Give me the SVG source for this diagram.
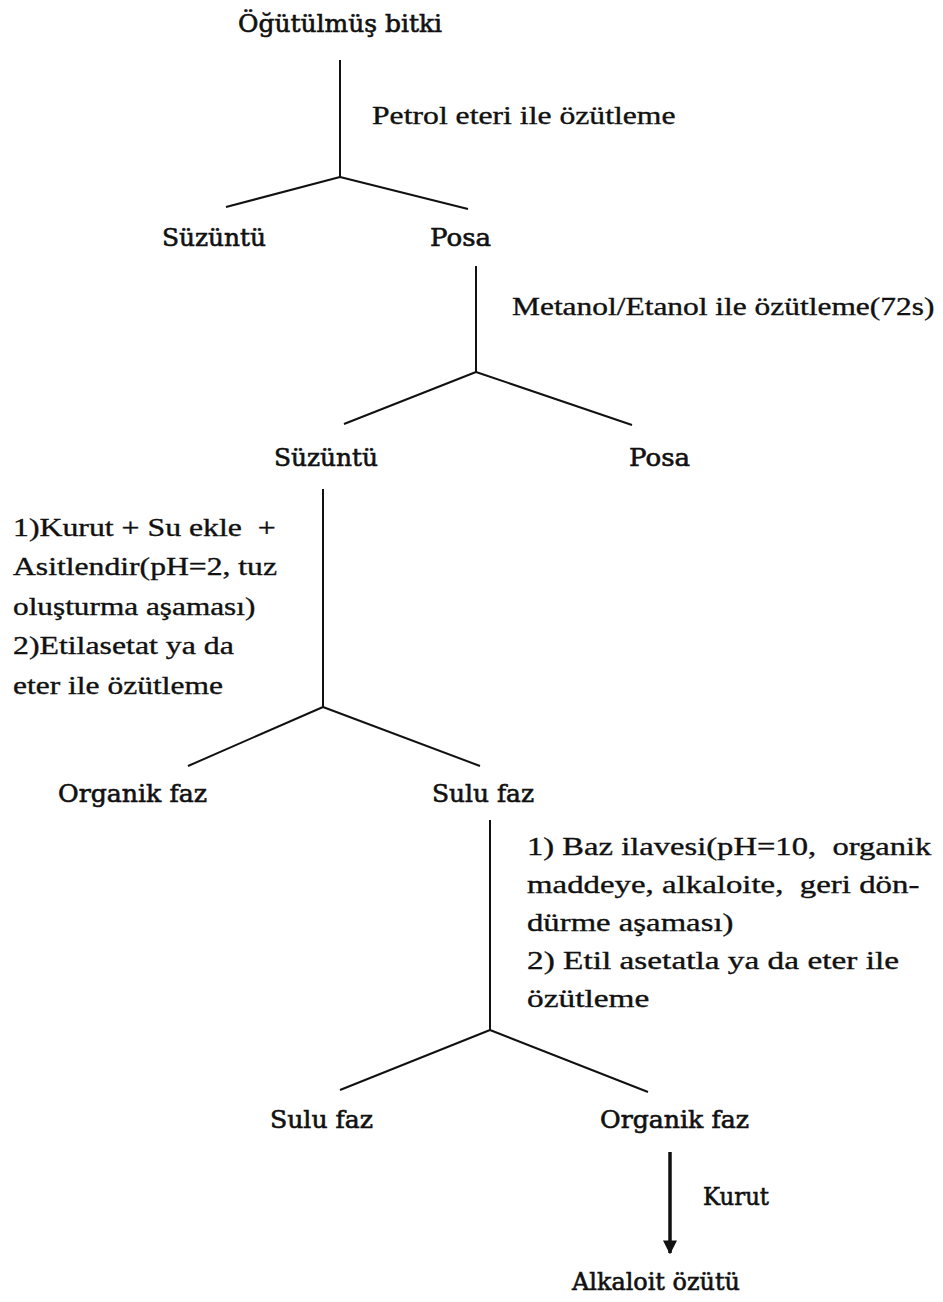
<svg xmlns="http://www.w3.org/2000/svg" width="943" height="1302" viewBox="0 0 943 1302">
<style>
text{white-space:pre}
.lbl{font-family:"DejaVu Serif","Liberation Serif",serif;font-size:23.5px;fill:#111;stroke:#111;stroke-width:0.6}
.ins{font-family:"Liberation Serif","Times New Roman",serif;font-size:25px;fill:#111;stroke:#111;stroke-width:0.35}
.ln{stroke:#111;stroke-width:2;fill:none}
</style>
<defs>
<marker id="ah" viewBox="0 0 10 10" refX="9" refY="5" markerWidth="14" markerHeight="14" markerUnits="userSpaceOnUse" orient="auto">
<path d="M0,0 L10,5 L0,10 z" fill="#111"/>
</marker>
</defs>
<rect width="943" height="1302" fill="#fff"/>
<g id="connectors">
<path class="ln" d="M340,60 V177 M340,177 L226,207 M340,177 L468,209"/>
<path class="ln" d="M476,266 V372 M476,372 L344,424 M476,372 L632,425"/>
<path class="ln" d="M323,489 V707 M323,707 L188,766 M323,707 L480,766"/>
<path class="ln" d="M490,820 V1030 M490,1030 L340,1090 M490,1030 L648,1092"/>
<line x1="670" y1="1152" x2="670" y2="1253" stroke="#111" stroke-width="3.5" marker-end="url(#ah)"/>
</g>
<g id="n_bitki"><text class="lbl" x="238" y="32" textLength="204" lengthAdjust="spacingAndGlyphs">Öğütülmüş bitki</text></g>
<g id="e_petrol" transform="translate(372,124) scale(1.2,1)"><text class="ins" x="0" y="0" textLength="253" lengthAdjust="spacingAndGlyphs">Petrol eteri ile özütleme</text></g>
<g id="n_suzuntu1"><text class="lbl" x="162" y="246" textLength="104" lengthAdjust="spacingAndGlyphs">Süzüntü</text></g>
<g id="n_posa1"><text class="lbl" x="430" y="246" textLength="61" lengthAdjust="spacingAndGlyphs">Posa</text></g>
<g id="e_metanol" transform="translate(512,315) scale(1.2,1)"><text class="ins" x="0" y="0" textLength="352" lengthAdjust="spacingAndGlyphs">Metanol/Etanol ile özütleme(72s)</text></g>
<g id="n_suzuntu2"><text class="lbl" x="274" y="466" textLength="104" lengthAdjust="spacingAndGlyphs">Süzüntü</text></g>
<g id="n_posa2"><text class="lbl" x="629" y="466" textLength="61" lengthAdjust="spacingAndGlyphs">Posa</text></g>
<g id="e_asit" transform="translate(13,0) scale(1.2,1)">
<text class="ins" x="0" y="536" textLength="219" lengthAdjust="spacingAndGlyphs">1)Kurut + Su ekle  +</text>
<text class="ins" x="0" y="575" textLength="220" lengthAdjust="spacingAndGlyphs">Asitlendir(pH=2, tuz</text>
<text class="ins" x="0" y="615" textLength="202" lengthAdjust="spacingAndGlyphs">oluşturma aşaması)</text>
<text class="ins" x="0" y="654" textLength="184" lengthAdjust="spacingAndGlyphs">2)Etilasetat ya da</text>
<text class="ins" x="0" y="694" textLength="175" lengthAdjust="spacingAndGlyphs">eter ile özütleme</text>
</g>
<g id="n_organik1"><text class="lbl" x="58" y="802" textLength="149" lengthAdjust="spacingAndGlyphs">Organik faz</text></g>
<g id="n_sulu1"><text class="lbl" x="432" y="802" textLength="102" lengthAdjust="spacingAndGlyphs">Sulu faz</text></g>
<g id="e_baz" transform="translate(527,0) scale(1.2,1)">
<text class="ins" x="0" y="855" textLength="337" lengthAdjust="spacingAndGlyphs">1) Baz ilavesi(pH=10,  organik</text>
<text class="ins" x="0" y="893" textLength="327" lengthAdjust="spacingAndGlyphs">maddeye, alkaloite,  geri dön-</text>
<text class="ins" x="0" y="931" textLength="172" lengthAdjust="spacingAndGlyphs">dürme aşaması)</text>
<text class="ins" x="0" y="969" textLength="310" lengthAdjust="spacingAndGlyphs">2) Etil asetatla ya da eter ile</text>
<text class="ins" x="0" y="1007" textLength="102" lengthAdjust="spacingAndGlyphs">özütleme</text>
</g>
<g id="n_sulu2"><text class="lbl" x="270" y="1128" textLength="103" lengthAdjust="spacingAndGlyphs">Sulu faz</text></g>
<g id="n_organik2"><text class="lbl" x="600" y="1128" textLength="149" lengthAdjust="spacingAndGlyphs">Organik faz</text></g>
<g id="e_kurut"><text class="lbl" x="703" y="1205" textLength="66" lengthAdjust="spacingAndGlyphs">Kurut</text></g>
<g id="n_alkaloit"><text class="lbl" x="572" y="1290" textLength="168" lengthAdjust="spacingAndGlyphs">Alkaloit özütü</text></g>
</svg>
